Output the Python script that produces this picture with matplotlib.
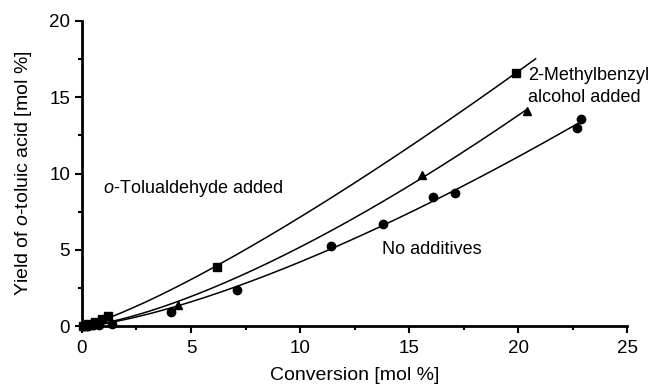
import numpy as np
import matplotlib
matplotlib.use('Agg')
import matplotlib.pyplot as plt
from matplotlib.ticker import MultipleLocator

plt.rcParams['font.family'] = ['Liberation Sans', 'DejaVu Sans']
plt.rcParams['mathtext.fontset'] = 'custom'
plt.rcParams['mathtext.rm'] = 'Liberation Sans'
plt.rcParams['mathtext.it'] = 'Liberation Sans:italic'

# conversion / yield, mol %
conv_ald = [0.05, 0.3, 0.6, 0.9, 1.2, 6.2, 19.9]
yield_ald = [0.0, 0.12, 0.3, 0.45, 0.65, 3.9, 16.6]

conv_alc = [0.1, 0.4, 0.7, 4.4, 15.6, 20.4]
yield_alc = [0.02, 0.1, 0.2, 1.4, 9.9, 14.1]

conv_none = [0.1, 0.3, 0.5, 0.8, 1.4, 4.1, 7.1, 11.4, 13.8, 16.1, 17.1, 22.7, 22.9]
yield_none = [0.0, 0.02, 0.05, 0.08, 0.12, 0.95, 2.4, 5.25, 6.7, 8.45, 8.75, 13.0, 13.55]

curve_end = [20.8, 20.4, 22.8]


def fit_curve(x, y, xmax):
    # power law y = a*x^n, least squares over a grid of exponents
    x = np.asarray(x)
    y = np.asarray(y)
    best = None
    for n in np.linspace(1.0, 2.5, 301):
        xn = x ** n
        a = np.sum(y * xn) / np.sum(xn * xn)
        r = np.sum((y - a * xn) ** 2)
        if best is None or r < best[0]:
            best = (r, a, n)
    xs = np.linspace(0, xmax, 300)
    return xs, best[1] * xs ** best[2]


fig = plt.figure(figsize=(6.5, 3.86), dpi=100)
ax = fig.add_axes([0.126, 0.155, 0.839, 0.791])

series = [(conv_ald, yield_ald, 's'), (conv_alc, yield_alc, '^'), (conv_none, yield_none, 'o')]
for (cx, cy, mk), xend in zip(series, curve_end):
    xs, ys = fit_curve(cx, cy, xend)
    ax.plot(xs, ys, color='black', lw=1.1)
    ax.plot(cx, cy, mk, color='black', ms=6, clip_on=False)

ax.text(0.95, 9.0, r'$\it{o}$-Tolualdehyde added', fontsize=13, va='center')
ax.text(13.75, 5.0, 'No additives', fontsize=13, va='center')
ax.text(20.45, 16.4, '2-Methylbenzyl', fontsize=13, va='center')
ax.text(20.45, 15.0, 'alcohol added', fontsize=13, va='center')

ax.set_xlim(0, 25)
ax.set_ylim(0, 20)
ax.xaxis.set_major_locator(MultipleLocator(5))
ax.xaxis.set_minor_locator(MultipleLocator(2.5))
ax.yaxis.set_major_locator(MultipleLocator(5))
ax.yaxis.set_minor_locator(MultipleLocator(2.5))
ax.tick_params(which='both', direction='out', width=1.5, labelsize=13.5)
ax.tick_params(which='major', length=5)
ax.tick_params(which='minor', length=3)
ax.tick_params(axis='x', pad=5)

for s in ['top', 'right']:
    ax.spines[s].set_visible(False)
for s in ['left', 'bottom']:
    ax.spines[s].set_linewidth(2)

ax.set_xlabel('Conversion [mol %]', fontsize=14, labelpad=7)
ax.set_ylabel(r'Yield of $\it{o}$-toluic acid [mol %]', fontsize=14, labelpad=11)

fig.savefig('out.png', dpi=100)
